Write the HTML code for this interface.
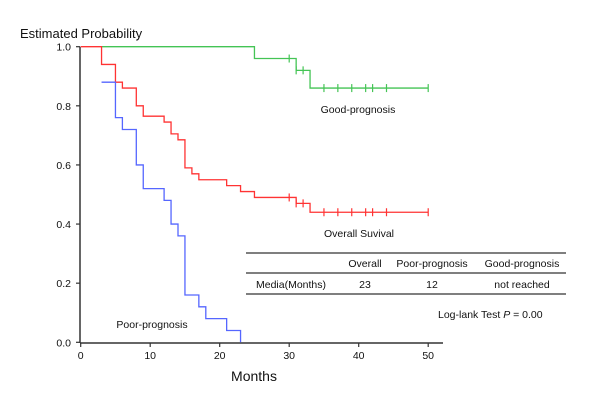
<!DOCTYPE html>
<html><head><meta charset="utf-8"><style>
body{margin:0;background:#fff;}
svg{display:block;font-family:"Liberation Sans",Arial,sans-serif;}
</style></head><body>
<svg id="chart" width="600" height="400" viewBox="0 0 600 400">
<text x="20" y="38" font-size="13" fill="#111">Estimated Probability</text>
<text x="254" y="381" font-size="14" text-anchor="middle" fill="#111">Months</text>
<g id="axes"></g>
<g id="series"></g>
<text x="358" y="113" font-size="10.5" text-anchor="middle" fill="#111">Good-prognosis</text>
<text x="359" y="237" font-size="10.5" text-anchor="middle" fill="#111">Overall Suvival</text>
<text x="152" y="328" font-size="10.5" text-anchor="middle" fill="#111">Poor-prognosis</text>
<g font-size="10.5" fill="#111">
<line x1="246" y1="253" x2="566" y2="253" stroke="#333" stroke-width="1.2"/>
<line x1="246" y1="273" x2="566" y2="273" stroke="#333" stroke-width="1.2"/>
<line x1="246" y1="294" x2="566" y2="294" stroke="#333" stroke-width="1.2"/>
<text x="365" y="267" text-anchor="middle">Overall</text>
<text x="432" y="267" text-anchor="middle">Poor-prognosis</text>
<text x="522" y="267" text-anchor="middle">Good-prognosis</text>
<text x="291" y="288" text-anchor="middle">Media(Months)</text>
<text x="365" y="288" text-anchor="middle">23</text>
<text x="432" y="288" text-anchor="middle">12</text>
<text x="522" y="288" text-anchor="middle">not reached</text>
</g>
<text x="438" y="318" font-size="10.5" fill="#111">Log-lank Test <tspan font-style="italic">P</tspan> = 0.00</text>
</svg>
<script>
const xTicks=[0,10,20,30,40,50];
const yTicks=[0,0.2,0.4,0.6,0.8,1.0];
const redTimes=[0,3,5,6,8,9,12,13,14,15,16,17,21,23,25,31,33,50];
const redVals=[1,0.94,0.88,0.86,0.80,0.765,0.745,0.705,0.685,0.59,0.57,0.55,0.53,0.51,0.49,0.47,0.44,0.44];
const redCens=[30,31,32,35,37,39,41,42,44,50];
const blueTimes=[3,5,6,8,9,12,13,14,15,17,18,21,23];
const blueVals=[0.88,0.76,0.72,0.60,0.52,0.48,0.40,0.36,0.16,0.12,0.08,0.04,0];
const greenTimes=[3,25,31,33,50];
const greenVals=[1,0.96,0.92,0.86,0.86];
const greenCens=[30,31,32,35,37,39,41,42,44,50];
const NS='http://www.w3.org/2000/svg';
const X=t=>80.7+t*6.95, Y=v=>342.3-v*295.6;
function el(tag,attrs,parent){const e=document.createElementNS(NS,tag);for(const k in attrs)e.setAttribute(k,attrs[k]);parent.appendChild(e);return e;}
const axes=document.getElementById('axes'),series=document.getElementById('series');
let a=el('line',{x1:80,y1:Y(1),x2:80,y2:343,stroke:'#333','stroke-width':1.5},axes);


a=el('line',{x1:80,y1:343,x2:443,y2:343,stroke:'#333','stroke-width':1.5},axes);


xTicks.forEach(t=>{
 el('line',{x1:X(t),y1:343,x2:X(t),y2:347,stroke:'#333','stroke-width':1.2},axes);
 const tx=el('text',{x:X(t),y:359,'font-size':10.5,'text-anchor':'middle',fill:'#111'},axes);tx.textContent=t;
 
 
});
yTicks.forEach(v=>{
 el('line',{x1:76,y1:Y(v),x2:80,y2:Y(v),stroke:'#333','stroke-width':1.2},axes);
 const tx=el('text',{x:71,y:Y(v)+4,'font-size':10.5,'text-anchor':'end',fill:'#111'},axes);tx.textContent=v.toFixed(1);
 
 
});
function step(times,vals,color,name){
 let d='M'+X(times[0])+' '+Y(vals[0]);
 for(let i=1;i<times.length;i++){d+=' H'+X(times[i])+' V'+Y(vals[i]);}
 const p=el('path',{d:d,fill:'none',stroke:color,'stroke-width':1.3},series);
 
 
 return p;
}
function valAt(times,vals,t){let v=vals[0];for(let i=0;i<times.length;i++){if(times[i]<=t)v=vals[i];}return v;}
function cens(times,vals,cs,color,name){
 cs.forEach(t=>{const v=valAt(times,vals,t);
  const c=el('line',{x1:X(t),y1:Y(v)-4,x2:X(t),y2:Y(v)+4,stroke:color,'stroke-width':1.2},series);
  
  });
}
step(greenTimes,greenVals,'#44c455','good-prognosis-curve');
step(redTimes,redVals,'#ff3333','overall-survival-curve');
step(blueTimes,blueVals,'#5566ff','poor-prognosis-curve');
cens(greenTimes,greenVals,greenCens,'#44c455','good-censor-mark');
cens(redTimes,redVals,redCens,'#ff3333','overall-censor-mark');
</script>
</body></html>
